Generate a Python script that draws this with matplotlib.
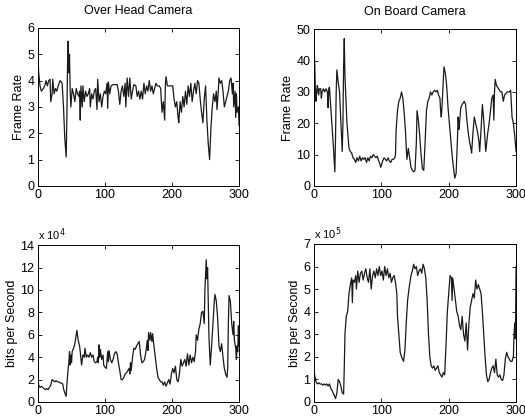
import matplotlib
matplotlib.use("Agg")
import matplotlib.pyplot as plt

plt.rcParams["font.family"] = ["Liberation Sans", "DejaVu Sans"]
plt.rcParams["font.size"] = 9

# values, (frame index, value)
overhead_fps = [(0,4.9),(1,4.3),(3,3.8),(5,3.6),(8,3.7),(10,3.8),(12,4.0),(14,3.8),(16,4.0),(18,4.05),(19,3.2),(21,3.5),(22,4.05),(24,3.5),(26,3.7),(28,3.6),(30,3.8),(33,4.0),(36,3.9),(38,3.0),(40,1.8),(42,1.1),(43,2.5),(44,4.5),(45,5.5),(46,4.3),(47,5.0),(48,3.6),(49,3.0),(51,3.7),(53,3.5),(55,3.2),(57,3.7),(59,3.5),(61,3.4),(62,3.6),(63,2.5),(64,3.8),(66,3.0),(67,3.8),(69,3.2),(71,3.6),(73,3.4),(75,3.5),(77,3.7),(78,3.0),(80,3.5),(82,3.3),(84,3.6),(86,3.7),(88,2.9),(89,4.05),(91,3.2),(93,3.5),(95,3.0),(97,3.4),(99,3.6),(101,3.5),(103,3.9),(104,2.95),(105,3.95),(107,3.5),(109,3.8),(112,3.85),(115,3.85),(118,3.85),(120,3.6),(122,3.1),(124,3.6),(126,3.8),(128,3.4),(130,3.9),(131,3.0),(133,4.1),(135,3.4),(137,4.1),(139,3.3),(141,3.6),(143,3.85),(146,3.8),(148,3.4),(150,3.6),(152,3.3),(154,3.6),(156,3.3),(158,3.9),(160,3.5),(162,3.8),(164,3.6),(166,4.0),(168,3.6),(170,3.8),(172,3.5),(174,3.7),(176,3.9),(178,3.8),(181,3.8),(183,3.7),(185,2.8),(187,3.2),(189,2.5),(190,3.8),(191,4.15),(193,3.8),(197,3.8),(201,3.8),(203,3.3),(205,3.0),(207,3.2),(209,2.6),(210,2.4),(212,3.2),(214,2.8),(216,3.4),(218,3.0),(220,3.6),(222,3.1),(224,3.8),(226,3.4),(228,3.9),(230,3.2),(232,3.6),(234,3.9),(236,3.5),(238,4.0),(240,3.9),(242,3.3),(244,2.8),(246,2.4),(248,3.3),(250,3.8),(252,2.5),(254,1.6),(256,1.0),(258,2.2),(260,3.0),(262,3.5),(264,3.2),(266,3.6),(267,2.9),(269,3.6),(270,4.1),(272,3.9),(274,4.0),(276,3.6),(278,3.0),(280,3.2),(282,3.4),(284,3.6),(286,4.0),(288,4.1),(290,3.5),(291,3.9),(292,3.0),(294,3.6),(295,2.6),(296,3.5),(297,2.8),(299,3.0),(300,2.3)]

onboard_fps = [(0,46),(1,40),(2,32),(3,27),(4,30),(5,32),(6,31),(7,29),(8,31),(10,31),(11,28),(12,30),(14,31),(16,30),(18,31),(20,30),(21,25),(22,31),(23,31.5),(25,25),(27,18),(29,12),(30,8),(31,4.5),(32,15),(33,30),(34,37),(36,33),(38,30),(40,20),(42,11),(43,20),(44,38),(45,47),(46,35),(47,30),(49,20),(52,12),(54,11),(56,10.5),(58,9),(60,8.5),(62,7.5),(64,9),(66,8),(68,9.5),(70,8),(72,9),(74,8.5),(76,9),(78,7.5),(80,9),(82,8),(84,9.5),(86,9),(88,10),(90,9.5),(92,9),(94,9.5),(96,8),(98,7),(99,6),(100,6.5),(102,8),(104,9),(106,8.5),(108,8),(110,9),(112,8),(114,7.5),(116,8.5),(118,8.5),(120,9),(121,10),(122,18),(124,24),(126,27),(128,28),(130,30),(132,28),(134,23),(136,17),(137,12),(138,8.5),(140,12),(142,9),(144,6),(146,5),(148,4.5),(150,5),(152,14),(153,24),(155,21),(157,16),(159,10),(161,5.5),(163,5),(165,14),(167,24),(169,27),(171,28),(173,30),(175,29),(177,30),(179,30.5),(181,30),(183,30.5),(185,29),(187,28),(188,24),(189,22),(190,25),(192,34),(193,38),(195,36),(197,32),(199,25),(201,20),(203,15),(205,10),(207,6),(209,2.5),(211,4),(213,15),(214,22),(215,18),(216,20),(218,25),(220,26),(223,27),(225,26),(227,21),(229,17),(231,14),(233,12),(234,10.5),(236,17),(238,22),(240,20),(241,19),(243,17),(245,14),(246,11),(248,18),(250,26),(252,21),(254,14),(255,11),(258,17),(260,20),(262,24),(264,28),(266,29),(267,21),(268,30),(269,34),(271,32),(274,31),(277,30),(279,30),(281,27),(283,29),(285,29.5),(287,30),(290,30),(292,30.5),(294,22),(296,20),(298,16),(300,11)]

# bits per second, in units of 1e4
overhead_bps = [(0,2.0),(1,1.5),(3,1.3),(5,1.4),(7,1.3),(9,1.2),(11,1.1),(13,1.2),(15,1.1),(17,1.3),(19,1.5),(21,2.0),(23,1.9),(25,1.8),(27,1.9),(29,1.8),(31,1.8),(33,1.7),(35,1.7),(37,1.6),(38,1.2),(40,0.8),(42,0.5),(43,1.5),(45,3.0),(46,3.5),(47,4.5),(48,3.3),(49,4.2),(50,3.5),(51,4.5),(53,4.8),(55,5.2),(57,6.0),(58,6.4),(60,5.5),(62,5.0),(63,4.5),(65,3.3),(67,4.2),(69,4.0),(70,4.8),(72,4.0),(74,4.2),(76,4.0),(78,4.4),(80,4.0),(82,4.2),(84,3.6),(86,3.5),(88,3.6),(89,4.0),(90,3.5),(91,5.1),(92,4.0),(93,4.7),(95,3.8),(97,4.2),(98,3.3),(100,3.1),(102,3.0),(103,3.8),(104,4.5),(105,3.6),(106,4.6),(108,3.8),(110,3.5),(112,3.8),(114,4.3),(116,4.5),(118,4.3),(120,3.5),(122,2.8),(124,2.0),(126,2.0),(128,2.2),(130,2.5),(132,2.6),(134,2.8),(136,3.0),(137,2.5),(138,3.5),(139,2.8),(141,4.0),(143,4.8),(145,4.7),(147,5.0),(149,5.2),(151,5.4),(153,4.2),(155,3.5),(157,3.6),(159,3.8),(161,4.5),(163,5.5),(164,4.6),(165,6.2),(167,5.5),(168,6.2),(170,5.4),(171,6.1),(173,5.0),(175,4.0),(177,3.0),(179,2.2),(181,2.0),(183,1.8),(185,1.8),(187,1.5),(189,1.8),(191,1.4),(193,1.7),(195,2.0),(197,1.6),(199,2.5),(201,3.0),(203,2.6),(205,3.2),(207,2.0),(209,1.8),(211,2.5),(213,3.8),(215,3.2),(217,3.5),(219,3.8),(221,3.2),(223,4.3),(225,3.3),(227,4.2),(229,3.5),(231,4.0),(233,3.6),(235,4.5),(236,6.0),(238,5.5),(240,6.5),(242,7.0),(244,8.0),(246,8.1),(248,7.0),(249,10.0),(251,12.7),(252,11.0),(253,12.0),(254,9.0),(255,6.0),(256,4.5),(257,3.3),(259,5.0),(261,7.0),(263,9.0),(264,9.6),(266,9.0),(268,7.5),(270,5.0),(272,4.5),(274,5.2),(276,4.0),(278,3.0),(280,2.5),(282,2.2),(283,3.0),(284,7.0),(285,9.5),(287,9.0),(289,7.0),(291,6.0),(292,7.2),(293,5.5),(295,4.8),(296,3.8),(297,5.0),(298,4.5),(299,6.8),(300,5.0)]

# bits per second, in units of 1e5
onboard_bps = [(0,1.4),(1,1.2),(3,0.9),(5,0.8),(7,0.85),(9,0.8),(11,0.8),(13,0.75),(15,0.8),(17,0.75),(19,0.8),(21,0.7),(23,0.8),(25,0.6),(27,0.5),(30,0.3),(32,0.15),(34,0.4),(36,1.0),(38,0.9),(40,0.7),(42,0.4),(44,0.35),(45,1.5),(46,3.0),(48,3.8),(50,4.0),(52,4.8),(54,5.2),(56,5.5),(57,4.4),(58,5.4),(60,5.3),(62,5.6),(63,5.0),(65,5.8),(67,5.3),(69,5.7),(71,5.8),(73,5.4),(75,5.7),(77,5.9),(79,5.5),(81,5.3),(83,5.9),(85,5.0),(87,5.6),(89,5.8),(91,5.5),(93,5.9),(95,5.6),(97,6.0),(99,5.6),(101,5.8),(103,5.4),(105,6.0),(107,5.6),(109,5.9),(111,5.5),(113,5.7),(115,5.3),(117,5.5),(119,5.6),(121,5.3),(123,4.8),(124,3.8),(126,3.0),(128,2.2),(130,2.0),(133,1.8),(135,2.3),(137,3.5),(139,4.5),(141,5.0),(144,5.6),(146,5.8),(148,6.1),(150,5.9),(152,6.0),(154,5.6),(156,5.8),(158,5.9),(160,5.7),(162,6.1),(164,5.9),(166,5.5),(168,4.5),(170,3.0),(172,2.0),(174,1.6),(176,1.5),(178,1.6),(180,1.4),(182,1.5),(184,1.6),(186,1.3),(188,1.2),(190,1.1),(192,1.3),(194,1.2),(196,2.5),(198,4.0),(200,4.8),(202,5.6),(204,5.5),(205,4.5),(206,5.5),(208,5.0),(210,4.5),(212,4.0),(214,3.8),(216,3.4),(218,3.2),(220,3.8),(222,3.0),(224,2.7),(226,3.5),(228,2.3),(230,3.5),(232,4.2),(234,4.5),(236,4.8),(238,4.6),(240,5.4),(242,5.0),(244,5.2),(246,5.0),(248,4.8),(250,4.0),(252,3.0),(254,2.0),(256,1.2),(258,0.9),(260,1.0),(262,1.3),(264,1.5),(266,1.6),(268,1.3),(270,1.9),(272,1.2),(274,1.1),(276,1.2),(278,1.0),(280,0.95),(282,1.2),(284,1.9),(286,2.2),(288,2.0),(290,1.9),(292,1.8),(294,1.8),(296,2.0),(297,3.0),(298,3.5),(299,2.8),(300,6.0)]

x_ticks = [0, 100, 200, 300]

fig = plt.figure(figsize=(5.25, 4.17), dpi=100)

panels = [
    # data, axes rect, ylim, yticks, ylabel, title, exponent
    (overhead_fps, [0.0724, 0.554, 0.383, 0.379], 6, range(0, 7, 1), "Frame Rate", "Over Head Camera", None),
    (onboard_fps, [0.598, 0.554, 0.385, 0.376], 50, range(0, 51, 10), "Frame Rate", "On Board Camera", None),
    (overhead_bps, [0.0724, 0.036, 0.383, 0.376], 14, range(0, 15, 2), "bits per Second", None, 4),
    (onboard_bps, [0.598, 0.036, 0.385, 0.379], 7, range(0, 8, 1), "bits per Second", None, 5),
]

for data, rect, ytop, yticks, ylabel, title, expo in panels:
    ax = fig.add_axes(rect)
    xs = [p[0] for p in data]
    ys = [p[1] for p in data]
    ax.plot(xs, ys, color="#1a1a1a", lw=0.9)
    ax.set_xlim(0, 300)
    ax.set_ylim(0, ytop)
    ax.set_xticks(x_ticks)
    ax.set_yticks(list(yticks))
    ax.tick_params(direction="in", top=True, right=True, length=3, width=0.6, labelsize=9, pad=2.5)
    for s in ax.spines.values():
        s.set_linewidth(0.7)
    ax.set_ylabel(ylabel, labelpad=2)
    if title:
        ax.set_title(title, fontsize=9, pad=10)
    if expo:
        ax.text(0, 1.015, r"x 10$^{%d}$" % expo, transform=ax.transAxes,
                fontsize=8, ha="left", va="bottom")

fig.savefig("out.png", dpi=100)
